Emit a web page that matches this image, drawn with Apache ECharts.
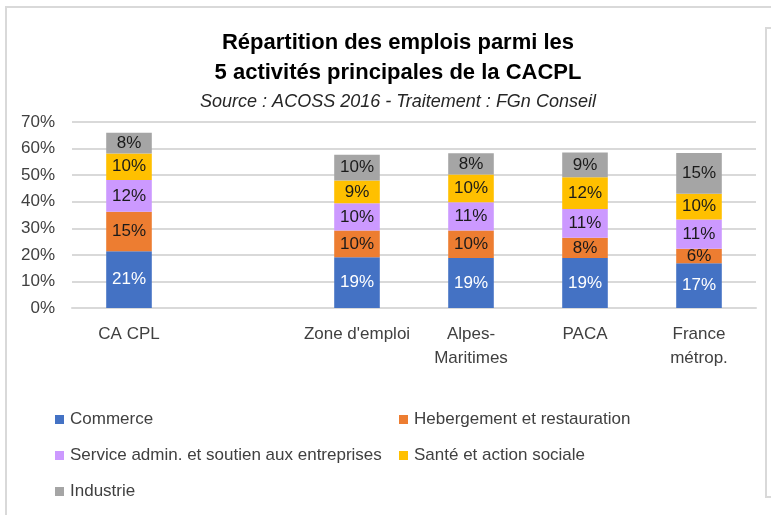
<!DOCTYPE html>
<html>
<head>
<meta charset="utf-8">
<script src="https://cdn.jsdelivr.net/npm/echarts@6/dist/echarts.min.js"></script>
<style>
  html, body { margin: 0; padding: 0; background: #fff; }
  #main { width: 771px; height: 515px; }
</style>
</head>
<body>
<div id="main"></div>
<script>
// catégories (la 2e est un emplacement vide, comme dans l'original)
var categories = ['CA CPL', '', "Zone d'emploi", 'Alpes-\nMaritimes', 'PACA', 'France\nmétrop.']
var yTicks = [0, 10, 20, 30, 40, 50, 60, 70]

// valeurs en %
var commerce = [21.4, null, 19.1, 18.8, 18.8, 16.8]
var hebergement = [14.8, null, 10.1, 10.4, 7.6, 5.5]
var serviceAdmin = [12.0, null, 10.2, 10.6, 10.9, 11.0]
var sante = [9.9, null, 8.6, 10.4, 11.9, 9.7]
var industrie = [7.9, null, 9.7, 8.0, 9.3, 15.3]

var names = ['Commerce', 'Hebergement et restauration', 'Service admin. et soutien aux entreprises', 'Santé et action sociale', 'Industrie']
var colors = ['#4472C4', '#ED7D31', '#CC99FF', '#FFC000', '#A5A5A5']
var values = [commerce, hebergement, serviceAdmin, sante, industrie]

var font = 'Liberation Sans, sans-serif'

var series = values.map(function (d, i) {
  return {
    name: names[i],
    type: 'bar',
    stack: 'total',
    barWidth: '40%',
    data: d,
    itemStyle: { color: colors[i] },
    label: {
      show: true,
      position: 'inside',
      fontFamily: font,
      fontSize: 17,
      color: i === 0 ? '#ffffff' : '#1a1a1a',
      formatter: function (p) { return Math.round(p.value) + '%' }
    }
  }
})

var legendText = { fontFamily: font, fontSize: 17, color: '#404040', padding: [0, 0, 0, 1] }

var chart = echarts.init(document.getElementById('main'), null, { renderer: 'canvas' })
chart.setOption({
  animation: false,
  title: [
    {
      text: 'Répartition des emplois parmi les\n5 activités principales de la CACPL',
      left: 393,
      top: 23,
      textAlign: 'center',
      textStyle: { fontFamily: font, fontSize: 22, fontWeight: 'bold', color: '#000', lineHeight: 30 }
    },
    {
      text: 'Source : ACOSS 2016 - Traitement : FGn Conseil',
      left: 393,
      top: 88,
      textAlign: 'center',
      textStyle: { fontFamily: font, fontSize: 18, fontStyle: 'italic', fontWeight: 'normal', color: '#262626' }
    }
  ],
  graphic: [
    {
      type: 'rect',
      shape: { x: 6, y: 7, width: 900, height: 600 },
      style: { fill: 'none', stroke: '#d9d9d9', lineWidth: 2 },
      silent: true
    },
    {
      type: 'rect',
      shape: { x: 766, y: 28, width: 20, height: 469 },
      style: { fill: 'none', stroke: '#d9d9d9', lineWidth: 2 },
      silent: true
    }
  ],
  legend: [
    {
      data: [names[0], names[2], names[4]],
      orient: 'vertical',
      left: 50,
      top: 406,
      itemGap: 19,
      itemWidth: 9,
      itemHeight: 9,
      icon: 'rect',
      textStyle: legendText
    },
    {
      data: [names[1], names[3]],
      orient: 'vertical',
      left: 394,
      top: 406,
      itemGap: 19,
      itemWidth: 9,
      itemHeight: 9,
      icon: 'rect',
      textStyle: legendText
    }
  ],
  grid: { left: 72, right: 15, top: 122, bottom: 207 },
  xAxis: {
    type: 'category',
    data: categories,
    axisTick: { show: false },
    axisLine: { lineStyle: { color: '#d9d9d9', width: 2 } },
    axisLabel: { interval: 0, fontFamily: font, fontSize: 17, color: '#404040', margin: 14, lineHeight: 24 }
  },
  yAxis: {
    type: 'value',
    min: yTicks[0],
    max: yTicks[yTicks.length - 1],
    interval: 10,
    axisLine: { show: false },
    axisTick: { show: false },
    splitLine: { lineStyle: { color: '#d9d9d9', width: 2 } },
    axisLabel: { fontFamily: font, fontSize: 17, color: '#404040', margin: 17, formatter: '{value}%' }
  },
  series: series
})
</script>
</body>
</html>
